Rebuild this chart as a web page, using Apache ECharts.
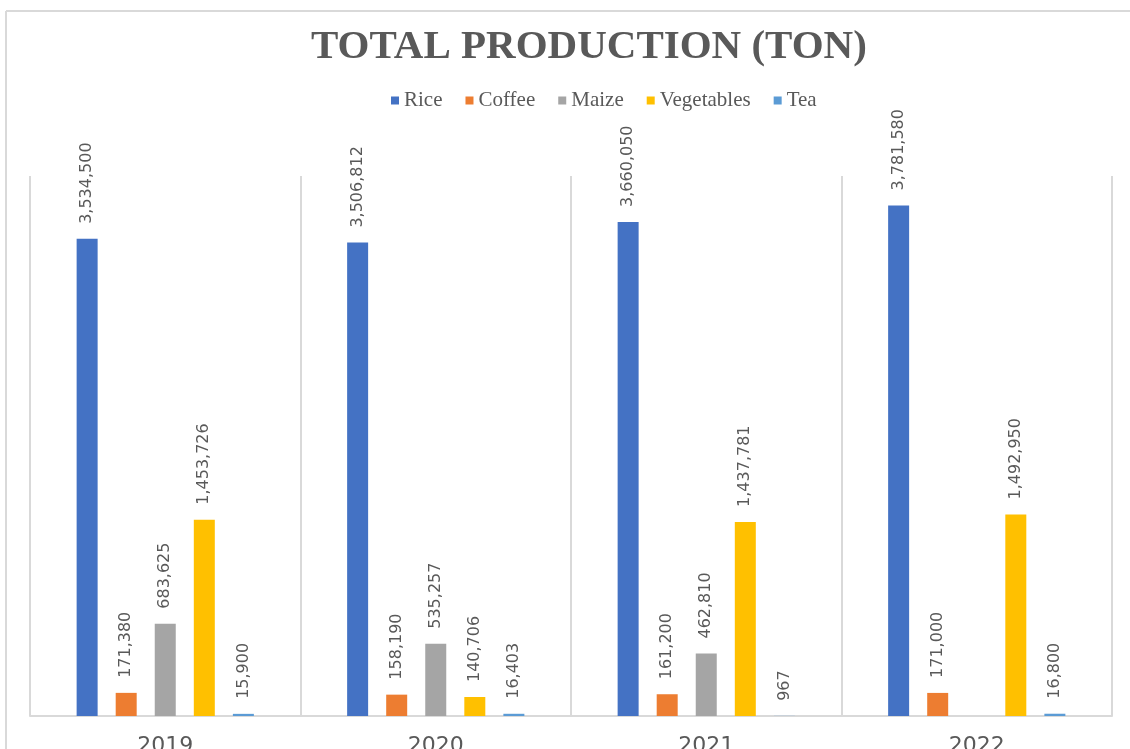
<!DOCTYPE html>
<html lang="en">
<head>
    <meta charset="UTF-8">
    <title>Total Production (Ton)</title>
    <style>
        * { padding: 0; margin: 0; }
        body { background: #fff; }
    </style>
    <script src="https://cdn.jsdelivr.net/npm/echarts@6/dist/echarts.min.js"></script>
</head>
<body>
    <div id="main" style="width:1130px;height:749px;"></div>
    <script type="text/javascript">
        // data
        var years = ["2019", "2020", "2021", "2022"];
        var rice = [3534500, 3506812, 3660050, 3781580];
        var coffee = [171380, 158190, 161200, 171000];
        var maize = [683625, 535257, 462810, null];
        var vegetables = [1453726, 140706, 1437781, 1492950];
        var tea = [15900, 16403, 967, 16800];

        var myChart = echarts.init(document.getElementById('main'));

        // rotated value labels above each bar
        var labelOpt = {
            show: true,
            position: 'top',
            rotate: 90,
            align: 'left',
            verticalAlign: 'middle',
            distance: 15,
            fontFamily: 'DejaVu Sans',
            fontSize: 16,
            color: '#595959',
            formatter: function (p) {
                return p.value.toLocaleString('en-US');
            }
        };

        function bar(name, data, color) {
            return {
                name: name,
                type: 'bar',
                data: data,
                barWidth: 21,
                barGap: '86%',
                itemStyle: { color: color },
                label: labelOpt
            };
        }

        var option = {
            animation: false,
            title: {
                text: 'TOTAL PRODUCTION (TON)',
                left: 306,
                top: 22,
                textStyle: {
                    fontFamily: 'Liberation Serif',
                    fontWeight: 'bold',
                    fontSize: 41,
                    color: '#595959'
                }
            },
            legend: {
                left: 386,
                top: 85,
                itemWidth: 8,
                itemHeight: 8,
                itemGap: 23,
                icon: 'rect',
                textStyle: {
                    fontFamily: 'Liberation Serif',
                    fontSize: 21,
                    color: '#595959'
                }
            },
            // chart area border (top and left edge)
            graphic: [
                { type: 'line', shape: { x1: 6, y1: 11, x2: 1130, y2: 11 }, style: { stroke: '#d9d9d9', lineWidth: 2 } },
                { type: 'line', shape: { x1: 6, y1: 11, x2: 6, y2: 749 }, style: { stroke: '#d9d9d9', lineWidth: 2 } }
            ],
            grid: {
                left: 30,
                right: 18,
                top: 176,
                bottom: 33,
                outerBoundsMode: 'none',
                containLabel: false
            },
            xAxis: {
                type: 'category',
                data: years,
                axisLine: { lineStyle: { color: '#d9d9d9', width: 2 } },
                axisTick: { show: false },
                splitLine: { show: true, lineStyle: { color: '#d9d9d9', width: 2 } },
                axisLabel: {
                    margin: 19,
                    fontFamily: 'DejaVu Sans',
                    fontSize: 22,
                    color: '#595959'
                }
            },
            yAxis: {
                type: 'value',
                min: 0,
                max: 4000000,
                show: false,
                splitLine: { show: false }
            },
            series: [
                bar('Rice', rice, '#4472C4'),
                bar('Coffee', coffee, '#ED7D31'),
                bar('Maize', maize, '#A5A5A5'),
                bar('Vegetables', vegetables, '#FFC000'),
                bar('Tea', tea, '#5B9BD5')
            ]
        };

        myChart.setOption(option);
    </script>
</body>
</html>
